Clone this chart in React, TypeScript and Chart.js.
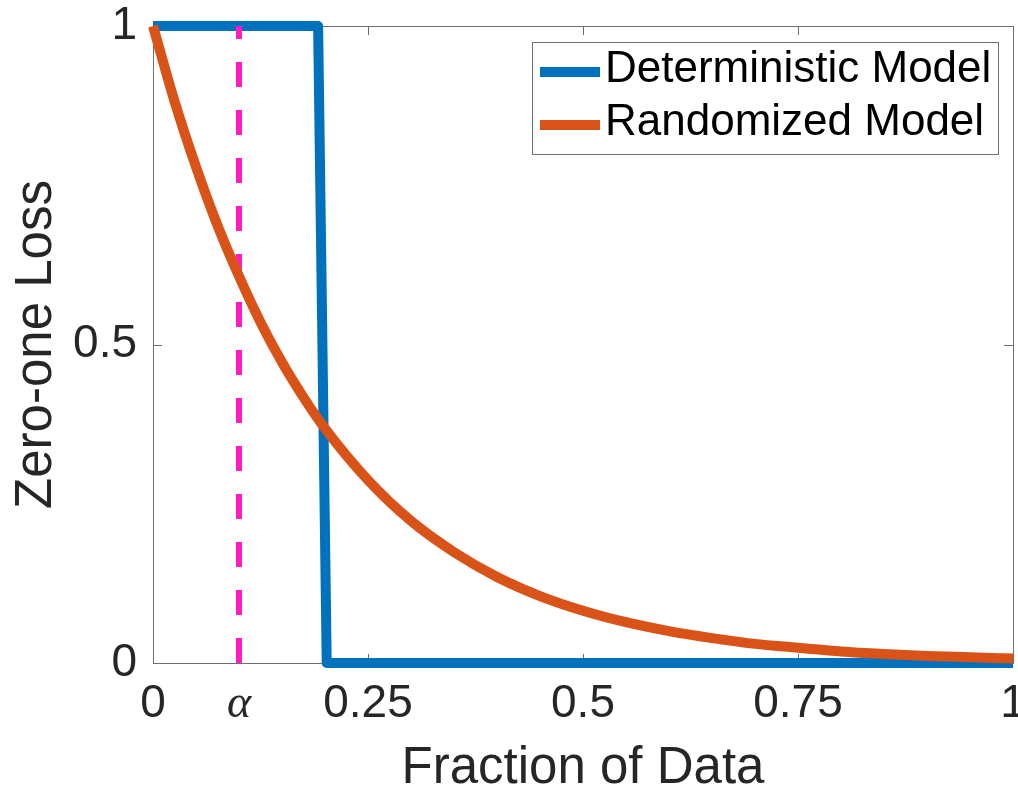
import React, { useEffect, useRef } from 'react';
import { Chart, registerables } from 'chart.js';

Chart.register(...registerables);

// ---- data ----
const seriesNames = ['Deterministic Model', 'Randomized Model'];
const detX = [0, 0.192, 0.202, 1];
const detY = [1, 1, 0, 0];
const randX = [0, 0.025, 0.05, 0.075, 0.1, 0.125, 0.15, 0.175, 0.2, 0.25, 0.3, 0.35, 0.4, 0.45, 0.5, 0.55, 0.6, 0.65, 0.7, 0.75, 0.8, 0.85, 0.9, 0.95, 1];
const randY = [1, 0.882, 0.779, 0.687, 0.607, 0.535, 0.472, 0.417, 0.368, 0.287, 0.223, 0.174, 0.135, 0.105, 0.082, 0.064, 0.05, 0.039, 0.03, 0.024, 0.018, 0.014, 0.011, 0.009, 0.007];
const alphaX = [0.1, 0.1];
const alphaY = [0, 1];
const xTickValues = [0, 0.1, 0.25, 0.5, 0.75, 1];
const xTickLabels = ['0', 'α', '0.25', '0.5', '0.75', '1'];
const yTickValues = [0, 0.5, 1];
const yTickLabels = ['0', '0.5', '1'];
const xTitle = 'Fraction of Data';
const yTitle = 'Zero-one Loss';

const BLUE = '#0072BD';
const ORANGE = '#D95319';
const MAGENTA = '#FF1CC4';
const TEXT = '#262626';
const SANS = '"Liberation Sans", Arial, Helvetica, sans-serif';

const boxPlugin = {
  id: 'matlabBox',
  beforeDatasetsDraw(chart: any) {
    const { ctx, chartArea: a, scales } = chart;
    const x = scales.x;
    const y = scales.y;
    ctx.save();
    ctx.strokeStyle = '#6e6e6e';
    ctx.lineWidth = 1;
    ctx.strokeRect(a.left + 0.5, a.top + 0.5, a.right - a.left, a.bottom - a.top);
    const L = 9;
    ctx.beginPath();
    xTickValues.forEach((v) => {
      const px = Math.round(x.getPixelForValue(v)) + 0.5;
      ctx.moveTo(px, a.bottom);
      ctx.lineTo(px, a.bottom - L);
      ctx.moveTo(px, a.top);
      ctx.lineTo(px, a.top + L);
    });
    yTickValues.forEach((v) => {
      const py = Math.round(y.getPixelForValue(v)) + 0.5;
      ctx.moveTo(a.left, py);
      ctx.lineTo(a.left + L, py);
      ctx.moveTo(a.right, py);
      ctx.lineTo(a.right - L, py);
    });
    ctx.stroke();
    ctx.restore();
  },
};

const legendPlugin = {
  id: 'boxLegend',
  afterDatasetsDraw(chart: any) {
    const { ctx, chartArea: a } = chart;
    const items = chart.data.datasets.filter((d: any) => d.inLegend);
    const w = 466;
    const h = 112;
    const left = a.right - 15 - w;
    const top = a.top + 16;
    ctx.save();
    ctx.fillStyle = '#ffffff';
    ctx.fillRect(left, top, w, h);
    ctx.strokeStyle = '#6e6e6e';
    ctx.lineWidth = 1;
    ctx.strokeRect(left + 0.5, top + 0.5, w, h);
    ctx.font = `44px ${SANS}`;
    ctx.textBaseline = 'middle';
    ctx.textAlign = 'left';
    items.forEach((d: any, i: number) => {
      const cy = top + 30 + i * 53;
      ctx.strokeStyle = d.borderColor;
      ctx.lineWidth = 10;
      ctx.beginPath();
      ctx.moveTo(left + 8, cy);
      ctx.lineTo(left + 68, cy);
      ctx.stroke();
      ctx.fillStyle = '#000000';
      ctx.fillText(d.label, left + 73, cy - 2.5);
    });
    ctx.restore();
  },
};

export default function App() {
  const ref = useRef<HTMLCanvasElement | null>(null);

  useEffect(() => {
    if (!ref.current) return;
    const toXY = (xs: number[], ys: number[]) => xs.map((v, i) => ({ x: v, y: ys[i] }));
    const chart = new Chart(ref.current, {
      type: 'line',
      data: {
        datasets: [
          {
            label: seriesNames[0],
            inLegend: true,
            data: toXY(detX, detY),
            borderColor: BLUE,
            backgroundColor: BLUE,
            borderWidth: 10,
            pointRadius: 0,
            borderJoinStyle: 'round',
            tension: 0,
            clip: 8,
            order: 3,
          } as any,
          {
            label: 'alpha',
            inLegend: false,
            data: toXY(alphaX, alphaY),
            borderColor: MAGENTA,
            backgroundColor: MAGENTA,
            borderWidth: 6,
            borderDash: [25, 23],
            pointRadius: 0,
            clip: 0,
            order: 2,
          } as any,
          {
            label: seriesNames[1],
            inLegend: true,
            data: toXY(randX, randY),
            borderColor: ORANGE,
            backgroundColor: ORANGE,
            borderWidth: 10,
            pointRadius: 0,
            cubicInterpolationMode: 'monotone',
            borderJoinStyle: 'round',
            clip: 8,
            order: 1,
          } as any,
        ],
      },
      options: {
        animation: false,
        responsive: true,
        maintainAspectRatio: false,
        events: [],
        layout: { padding: { left: 0, right: 5, top: 26, bottom: 0 } },
        plugins: {
          legend: { display: false },
          tooltip: { enabled: false },
        },
        scales: {
          x: {
            type: 'linear',
            min: 0,
            max: 1,
            grid: { display: false, drawTicks: false },
            border: { display: false },
            afterBuildTicks: (s: any) => {
              s.ticks = xTickValues.map((v) => ({ value: v }));
            },
            afterFit: (s: any) => {
              s.height = 129;
              s.paddingLeft = 0;
              s.paddingRight = 0;
            },
            ticks: {
              autoSkip: false,
              maxRotation: 0,
              minRotation: 0,
              padding: 14,
              color: TEXT,
              callback: (_v: any, i: number) => xTickLabels[i],
              font: (c: any) =>
                xTickLabels[c.index] === 'α'
                  ? { family: '"Liberation Serif", "DejaVu Serif", serif', size: 46, style: 'italic' }
                  : { family: SANS, size: 46 },
            },
            title: {
              display: true,
              text: xTitle,
              color: TEXT,
              font: { family: SANS, size: 51, lineHeight: 0.8 },
              padding: { top: 0, bottom: 3 },
            },
          },
          y: {
            type: 'linear',
            min: 0,
            max: 1,
            grid: { display: false, drawTicks: false },
            border: { display: false },
            afterBuildTicks: (s: any) => {
              s.ticks = yTickValues.map((v) => ({ value: v }));
            },
            afterFit: (s: any) => {
              s.width = 153;
              s.paddingTop = 0;
              s.paddingBottom = 0;
            },
            ticks: {
              autoSkip: false,
              padding: 16,
              color: TEXT,
              font: { family: SANS, size: 46 },
              callback: (_v: any, i: number) => yTickLabels[i],
            },
            title: {
              display: true,
              text: yTitle,
              color: TEXT,
              font: { family: SANS, size: 51, lineHeight: 1.2 },
              padding: { top: 6, bottom: 0 },
            },
          },
        },
      } as any,
      plugins: [boxPlugin, legendPlugin],
    });
    return () => chart.destroy();
  }, []);

  return (
    <div style={{ position: 'absolute', left: 0, top: 0, width: 1018, height: 792, background: '#fff' }}>
      <canvas ref={ref} />
    </div>
  );
}
